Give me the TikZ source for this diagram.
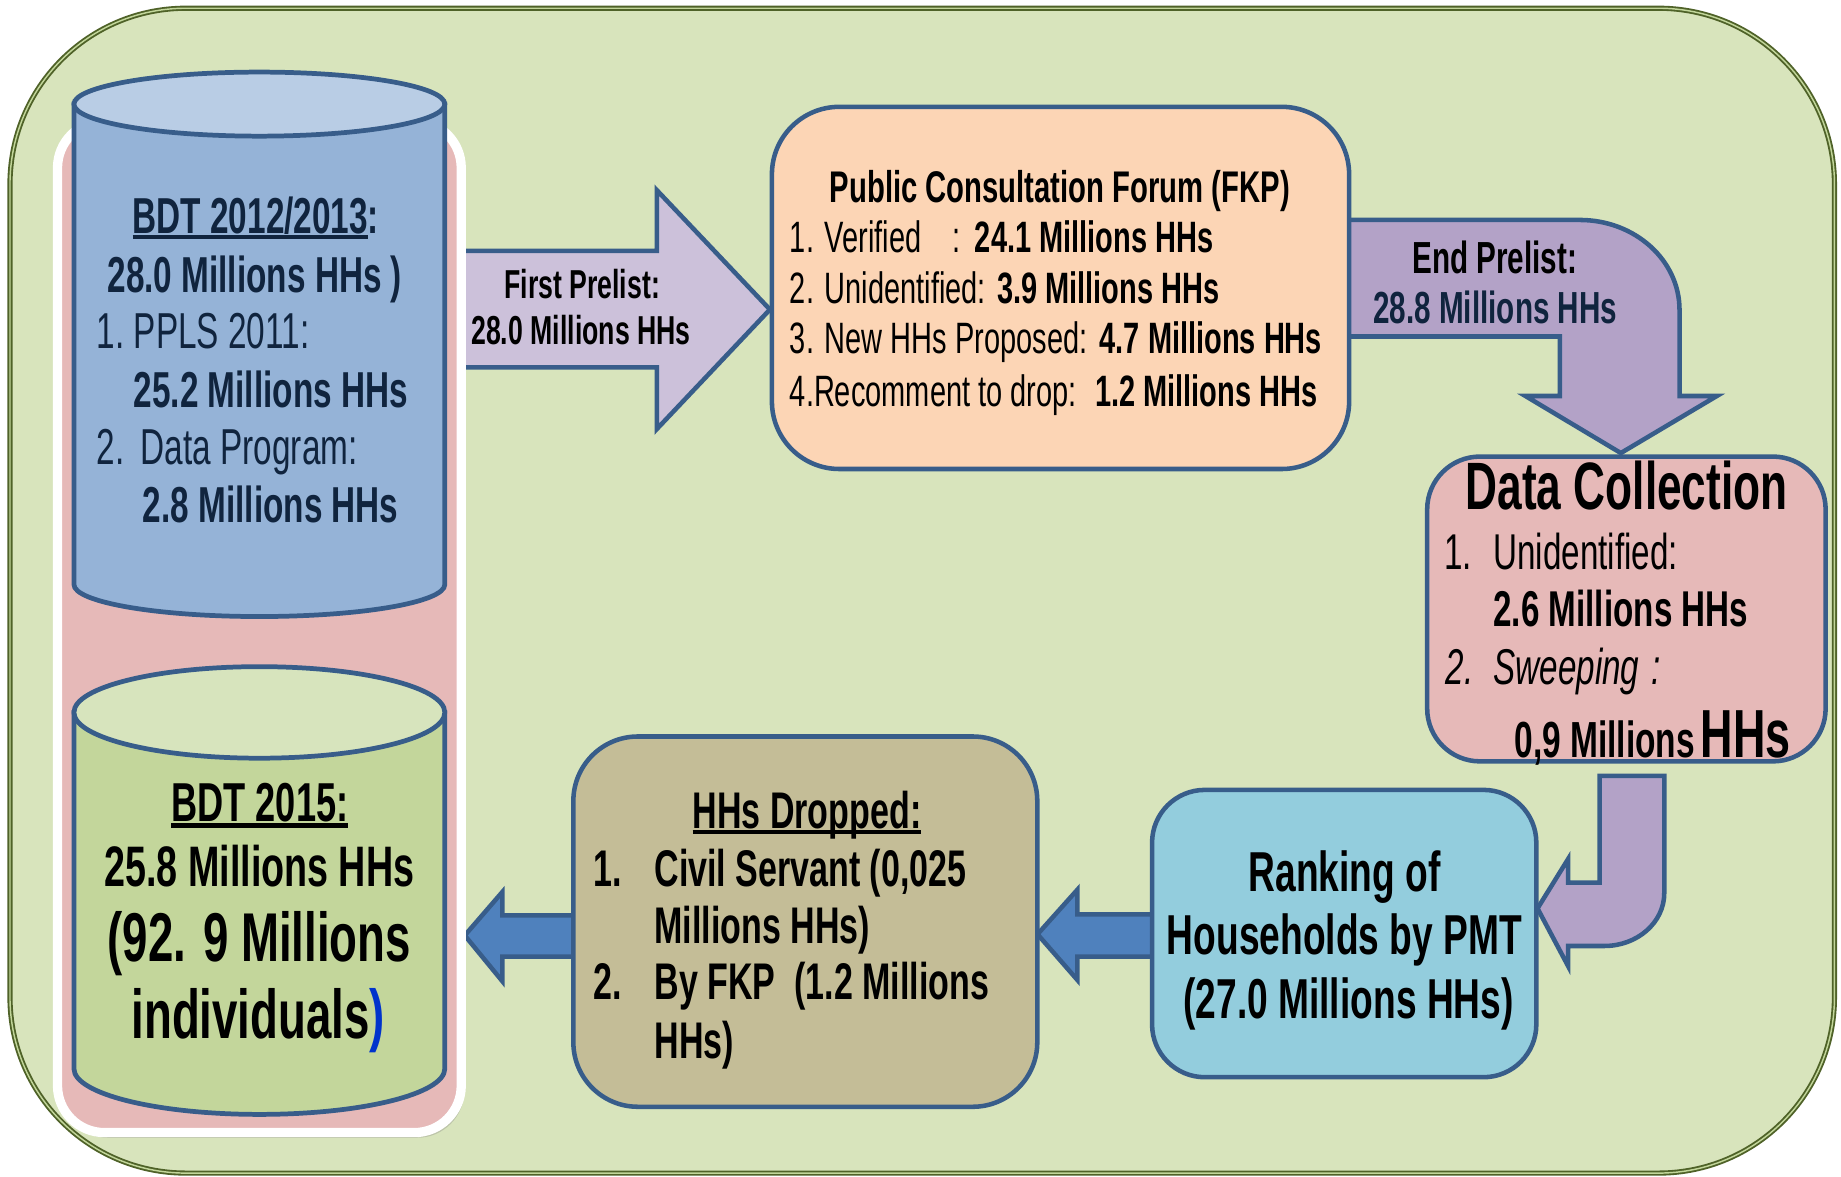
\documentclass[tikz,border=0pt]{standalone}
\usepackage{fontspec}
\setmainfont{Liberation Sans}[FakeStretch=0.66]
\usetikzlibrary{shadows}
\definecolor{frameC}{HTML}{4F6228}
\definecolor{frameF}{HTML}{D8E4BC}
\definecolor{frameIn}{HTML}{C2D69A}
\definecolor{pinkC}{HTML}{E6B9B8}
\definecolor{cylBody}{HTML}{95B3D7}
\definecolor{cylTop}{HTML}{B9CDE5}
\definecolor{cylGBody}{HTML}{C3D69B}
\definecolor{cylGTop}{HTML}{D7E4BD}
\definecolor{bordC}{HTML}{385D8A}
\definecolor{lilacC}{HTML}{CCC1DA}
\definecolor{purpC}{HTML}{B3A2C7}
\definecolor{peachC}{HTML}{FCD5B5}
\definecolor{cyanC}{HTML}{93CDDD}
\definecolor{khakiC}{HTML}{C4BD97}
\definecolor{blueC}{HTML}{4F81BD}
\definecolor{navyT}{HTML}{10243E}
\definecolor{parenB}{HTML}{0033CC}
\newcommand\fz[1]{\fontsize{#1pt}{#1pt}\selectfont}
\newcommand\ulx[1]{\setbox0\hbox{#1}\rlap{\rule[-0.11em]{\wd0}{0.075em}}\box0}
\begin{document}
\begin{tikzpicture}[x=0.02cm,y=-0.02cm,
  txt/.style={inner sep=0pt,outer sep=0pt},
  bx/.style={draw=bordC,line width=2.2pt},
  blk/.style={draw=bordC,line width=2.2pt,line join=miter},
  cyl/.style={draw=bordC,line width=2.3pt}]
\useasboundingbox (0,0) rectangle (1568.6,1002);
\fill[white] (0,0) rectangle (1568.6,1002);
% outer frame
\fill[frameF,rounded corners=3cm] (8.5,7) rectangle (1563,999.5);
\draw[frameC,line width=0.9pt,double=frameIn,double distance=0.7pt,rounded corners=3cm] (8.5,7) rectangle (1563,999.5);
% arrow 1 (first prelist)
\draw[blk,fill=lilacC] (385,213.7) -- (559.6,213.7) -- (559.6,162) -- (656,263.7) -- (559.6,365.6) -- (559.6,313) -- (385,313) -- cycle;
% arrow 2 (end prelist)
\draw[blk,fill=purpC] (1140,187.4) -- (1346,187.4) .. controls (1393,187.4) and (1431,221.7) .. (1431,264) -- (1431,337.4) -- (1462.8,337.4) -- (1381,386) -- (1299.7,337.4) -- (1329,337.4) -- (1329,286.7) -- (1140,286.7) -- cycle;
% arrow 3 (data collection -> ranking)
\draw[blk,fill=purpC] (1363,661) -- (1418,661) -- (1418,761) .. controls (1418,786) and (1395,806) .. (1367,806) -- (1336,806) -- (1336,823) -- (1310,774) -- (1336,732) -- (1336,752) -- (1363,752) -- cycle;
% blue arrows
\draw[blk,fill=blueC] (884,796) -- (918,758) -- (918,779) -- (995,779) -- (995,815) -- (918,815) -- (918,835) -- cycle;
\draw[blk,fill=blueC] (396,797) -- (428,760) -- (428,780) -- (500,780) -- (500,815) -- (428,815) -- (428,836) -- cycle;
% pink panel
\draw[white,line width=4.5pt,fill=pinkC,rounded corners=0.8cm,
  drop shadow={opacity=0.3,shadow xshift=1.5pt,shadow yshift=-2.5pt}] (49,103) rectangle (393,965);
% top cylinder
\draw[cyl,fill=cylBody] (63,88.7) -- (63,498) arc[start angle=180,end angle=0,x radius=158,y radius=27.3] -- (379,88.7) -- cycle;
\draw[cyl,fill=cylTop] (221,88.7) ellipse[x radius=158,y radius=27.3];
% bottom cylinder
\draw[cyl,fill=cylGBody] (63,607) -- (63,910.5) arc[start angle=180,end angle=0,x radius=158,y radius=39] -- (379,607) -- cycle;
\draw[cyl,fill=cylGTop] (221,607) ellipse[x radius=158,y radius=39];
% boxes
\draw[bx,fill=peachC,rounded corners=1.15cm] (657.7,91) rectangle (1149.5,399.6);
\draw[bx,fill=pinkC,rounded corners=0.9cm] (1216,389) rectangle (1555.5,648.7);
\draw[bx,fill=cyanC,rounded corners=0.9cm] (981.6,673) rectangle (1309,917.8);
\draw[bx,fill=khakiC,rounded corners=1.1cm] (488.5,627.5) rectangle (883.8,943);

% ---- text: top cylinder
\begin{scope}[every node/.style={txt,text=navyT,font=\fz{24.5}}]
\node[anchor=base west,font=\fz{24.5}\bfseries] (c1a) at (113,199) {\ulx{BDT 2012/2013}:};
\node[anchor=base west,font=\fz{24.5}\bfseries] (c1b) at (91.6,249.4) {28.0 Millions HHs )};
\node[anchor=base west] (c1c) at (82.6,297) {1.};
\node[anchor=base west] (c1d) at (114,297) {PPLS 2011:};
\node[anchor=base west,font=\fz{24.5}\bfseries] (c1e) at (114,347) {25.2 Millions HHs};
\node[anchor=base west] (c1f) at (82.6,396) {2.};
\node[anchor=base west] (c1g) at (120,396) {Data Program:};
\node[anchor=base west,font=\fz{24.5}\bfseries] (c1h) at (121.7,445) {2.8 Millions HHs};
\end{scope}
% ---- bottom cylinder
\begin{scope}[every node/.style={txt,text=black}]
\node[anchor=base,font=\fz{26.6}\bfseries] (c2a) at (221.5,700) {\ulx{BDT 2015:}};
\node[anchor=base,font=\fz{27.7}\bfseries] (c2b) at (221,755.7) {25.8 Millions HHs};
\node[anchor=base,font=\fz{33.5}\bfseries] (c2c) at (221,819.6) {(92. 9 Millions};
\node[anchor=base,font=\fz{33.5}\bfseries] (c2d) at (220,885) {individuals\textcolor{parenB}{)}};
\end{scope}
% ---- first prelist
\node[txt,anchor=base,font=\fz{19.6}\bfseries] (fp1) at (496,254) {First Prelist:};
\node[txt,anchor=base,font=\fz{19.6}\bfseries] (fp2) at (495,293.4) {28.0 Millions HHs};
% ---- FKP
\begin{scope}[every node/.style={txt,text=black,font=\fz{21.3}}]
\node[anchor=base,font=\fz{21.5}\bfseries] (k0) at (903,172.6) {Public Consultation Forum (FKP)};
\node[anchor=base west] (k1a) at (673,215) {1. Verified};
\node[anchor=base west] (k1b) at (811.7,215) {:};
\node[anchor=base west,font=\fz{21.3}\bfseries] (k1c) at (830.7,215) {24.1 Millions HHs};
\node[anchor=base west] (k2a) at (673,259) {2. Unidentified:};
\node[anchor=base west,font=\fz{21.3}\bfseries] (k2b) at (849.6,259) {3.9 Millions HHs};
\node[anchor=base west] (k3a) at (673,301.5) {3. New HHs Proposed:};
\node[anchor=base west,font=\fz{21.3}\bfseries] (k3b) at (937,301.5) {4.7 Millions HHs};
\node[anchor=base west] (k4a) at (673,346) {4.Recomment to drop:};
\node[anchor=base west,font=\fz{21.3}\bfseries] (k4b) at (933,346) {1.2 Millions HHs};
\end{scope}
% ---- end prelist
\node[txt,anchor=base,font=\fz{21.8}\bfseries] (ep1) at (1273.5,232.8) {End Prelist:};
\node[txt,anchor=base,font=\fz{21.8}\bfseries,text=navyT] (ep2) at (1274,276) {28.8 Millions HHs};
% ---- data collection
\begin{scope}[every node/.style={txt,text=black,font=\fz{24.4}}]
\node[anchor=base,font=\fz{32.5}\bfseries] (d0) at (1386,434.4) {Data Collection};
\node[anchor=base west] (d1a) at (1230.7,485) {1.};
\node[anchor=base west] (d1b) at (1272.5,485) {Unidentified:};
\node[anchor=base west,font=\fz{24.4}\bfseries] (d1c) at (1272.5,533.7) {2.6 Millions HHs};
\node[anchor=base west,font=\fz{24.4}\itshape] (d2a) at (1232,583.4) {2.};
\node[anchor=base west,font=\fz{24.4}\itshape] (d2b) at (1272.5,583.4) {Sweeping};
\node[anchor=base west,font=\fz{24.4}\itshape] (d2c) at (1407,583.4) {:};
\node[anchor=base west,font=\fz{24.6}\bfseries] (d2d) at (1290.3,645.8) {0,9 Millions};
\node[anchor=base west,font=\fz{33}\bfseries] (d2e) at (1449,645.8) {HHs};
\end{scope}
% ---- ranking
\begin{scope}[every node/.style={txt,text=black,font=\fz{27.3}\bfseries,anchor=base}]
\node (r1) at (1145.7,759.8) {Ranking of};
\node (r2) at (1145.5,813) {Households by PMT};
\node (r3) at (1149,867.7) {(27.0 Millions HHs)};
\end{scope}
% ---- HHs dropped
\begin{scope}[every node/.style={txt,text=black,font=\fz{25}\bfseries,anchor=base west}]
\node[anchor=base] (h0) at (687.6,705.6) {\ulx{HHs Dropped:}};
\node (h1a) at (506,755) {1.};
\node (h1b) at (557.6,755) {Civil Servant (0,025};
\node (h1c) at (557.6,803.6) {Millions HHs)};
\node (h2a) at (506,852) {2.};
\node (h2b) at (557.6,852) {By FKP\ \ (1.2 Millions};
\node (h2c) at (557.6,902) {HHs)};
\end{scope}
\end{tikzpicture}
\end{document}
